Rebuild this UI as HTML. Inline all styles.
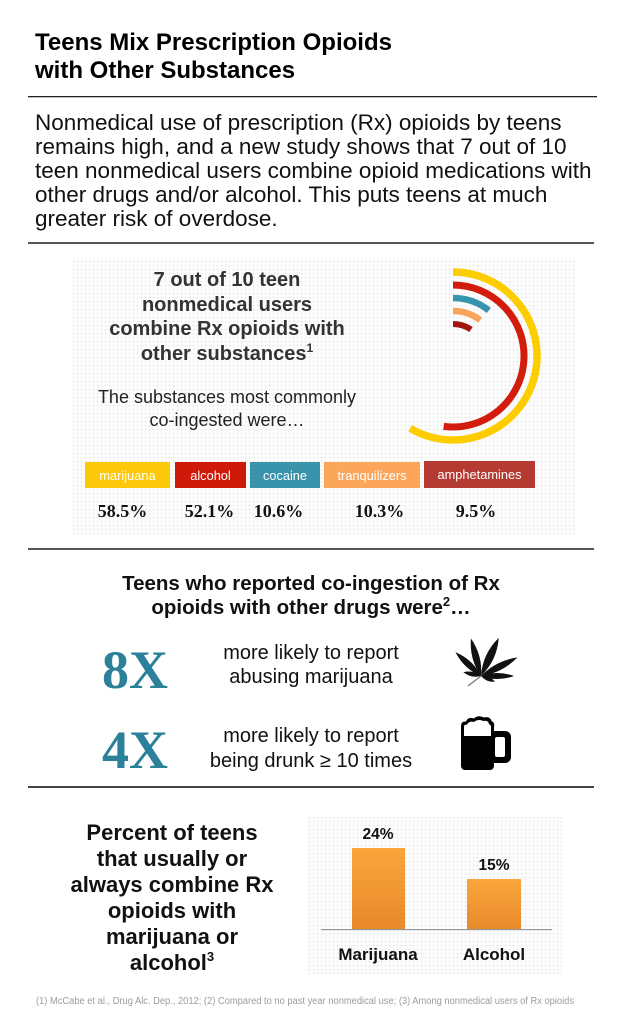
<!DOCTYPE html>
<html><head><meta charset="utf-8">
<style>
html,body{margin:0;padding:0;background:#fff;}
svg{display:block;}
text{font-family:"Liberation Sans",Arial,sans-serif;}
.serif{font-family:"Liberation Serif","Times New Roman",serif;}
</style></head>
<body>
<svg width="620" height="1024" viewBox="0 0 620 1024" xmlns="http://www.w3.org/2000/svg">
<defs>
  <pattern id="dots" x="0" y="0" width="4" height="4" patternUnits="userSpaceOnUse">
    <rect width="4" height="4" fill="#fcfcfc"/>
    <rect x="1" y="1" width="1.2" height="1.2" fill="#e0e0e0"/>
  </pattern>
  <linearGradient id="barg" x1="0" y1="0" x2="0" y2="1">
    <stop offset="0" stop-color="#faa63c"/>
    <stop offset="1" stop-color="#e8892b"/>
  </linearGradient>
</defs>
<rect width="620" height="1024" fill="#fff"/>

<!-- Title -->
<text x="35" y="50" font-size="24" font-weight="bold" fill="#000">Teens Mix Prescription Opioids</text>
<text x="35" y="78" font-size="24" font-weight="bold" fill="#000">with Other Substances</text>
<rect x="28" y="96" width="569" height="1.3" fill="#222"/>

<!-- Paragraph -->
<g font-size="22.5" fill="#111">
<text x="35" y="130">Nonmedical use of prescription (Rx) opioids by teens</text>
<text x="35" y="154">remains high, and a new study shows that 7 out of 10</text>
<text x="35" y="178">teen nonmedical users combine opioid medications with</text>
<text x="35" y="202">other drugs and/or alcohol. This puts teens at much</text>
<text x="35" y="226">greater risk of overdose.</text>
</g>
<rect x="28" y="242" width="566" height="2" fill="#555"/>

<!-- Panel 1 -->
<rect x="72" y="258" width="504" height="277" fill="url(#dots)"/>
<g font-size="20" font-weight="bold" fill="#333" text-anchor="middle">
<text x="227" y="286">7 out of 10 teen</text>
<text x="227" y="311">nonmedical users</text>
<text x="227" y="335">combine Rx opioids with</text>
<text x="227" y="360">other substances<tspan font-size="12" dy="-8">1</tspan></text>
</g>
<g font-size="18" fill="#222" text-anchor="middle">
<text x="227" y="403">The substances most commonly</text>
<text x="227" y="426">co-ingested were…</text>
</g>

<!-- arcs -->
<g fill="none" stroke-linecap="butt">
<path d="M453,272 A84,84 0 1 1 410.24,428.30" stroke="#fdcd00" stroke-width="7.5"/>
<path d="M453,285 A71,71 0 1 1 443.66,426.38" stroke="#d21c0c" stroke-width="7"/>
<path d="M453,298 A58,58 0 0 1 488.84,310.4" stroke="#3794ac" stroke-width="6.5"/>
<path d="M453,311 A45,45 0 0 1 480.14,320.10" stroke="#f9a35c" stroke-width="6.5"/>
<path d="M453,324 A32,32 0 0 1 470.99,329.53" stroke="#a3150f" stroke-width="6"/>
</g>

<!-- labels -->
<rect x="85" y="462" width="85" height="26" fill="#fec80a"/>
<rect x="175" y="462" width="71" height="26" fill="#cf1a0a"/>
<rect x="250" y="462" width="70" height="26" fill="#3993ab"/>
<rect x="324" y="462" width="96" height="26" fill="#fba65a"/>
<rect x="424" y="461" width="111" height="27" fill="#b53a32"/>
<g font-size="12.8" fill="#fff" text-anchor="middle">
<text x="127.5" y="480">marijuana</text>
<text x="210.5" y="480">alcohol</text>
<text x="285" y="480">cocaine</text>
<text x="372" y="480">tranquilizers</text>
<text x="479.5" y="479">amphetamines</text>
</g>
<g class="serif" font-size="18" font-weight="bold" fill="#111" text-anchor="middle">
<text class="serif" x="122.5" y="517">58.5%</text>
<text class="serif" x="209.5" y="517">52.1%</text>
<text class="serif" x="278.5" y="517">10.6%</text>
<text class="serif" x="379.5" y="517">10.3%</text>
<text class="serif" x="476" y="517">9.5%</text>
</g>

<rect x="28" y="548" width="566" height="2" fill="#555"/>

<!-- Section 2 -->
<g font-size="20.5" font-weight="bold" fill="#111" text-anchor="middle">
<text x="311" y="590">Teens who reported co-ingestion of Rx</text>
<text x="311" y="614">opioids with other drugs were<tspan font-size="13" dy="-8">2</tspan><tspan dy="8">…</tspan></text>
</g>
<g font-size="54" font-weight="bold" fill="#2b819a">
<text class="serif" x="102" y="688">8X</text>
<text class="serif" x="102" y="768">4X</text>
</g>
<g font-size="20" fill="#111" text-anchor="middle">
<text x="311" y="659">more likely to report</text>
<text x="311" y="683">abusing marijuana</text>
<text x="311" y="742">more likely to report</text>
<text x="311" y="767">being drunk  ≥ 10 times</text>
</g>

<!-- leaf -->
<g fill="#111">
<path d="M0,0 Q7,-19 0,-39 Q-7,-19 0,0Z" transform="translate(481,676) rotate(-15)"/>
<path d="M0,0 Q8,-21 0,-42 Q-8,-21 0,0Z" transform="translate(481,676) rotate(25)"/>
<path d="M0,0 Q6.5,-17 0,-35 Q-6.5,-17 0,0Z" transform="translate(481,676) rotate(-47)"/>
<path d="M0,0 Q7,-20 0,-41 Q-7,-20 0,0Z" transform="translate(481,676) rotate(63)"/>
<path d="M0,0 Q6,-16 0,-33 Q-6,-16 0,0Z" transform="translate(481,676) rotate(90)"/>
<path d="M0,0 Q4.5,-9 0,-18 Q-4.5,-9 0,0Z" transform="translate(481,676) rotate(-78)"/>
<path d="M0,0 Q4,-8 0,-15 Q-4,-8 0,0Z" transform="translate(481,676) rotate(112)"/>
</g>
<path d="M481,676 L468,686" stroke="#777" stroke-width="1.2"/>

<!-- beer mug -->
<g>
<path d="M490,731 h15 a6,6 0 0 1 6,6 v20 a6,6 0 0 1 -6,6 h-15 Z" fill="#000"/>
<rect x="495" y="737" width="10" height="20" rx="2" fill="#fff"/>
<path d="M461,736 h33 v30 a4,4 0 0 1 -4,4 h-25 a4,4 0 0 1 -4,-4 Z" fill="#000"/>
<path d="M461,738 L461,726 Q461,721 466,721.5 Q468,716.5 474,718.5 Q478,714.5 484,717.5 Q490,716 491.5,721 Q495,722 494,728 L494,738 Z" fill="#000"/>
<path d="M464,736 L464,727 Q464,724 467,724.8 Q469,720.5 474,722 Q478,718.5 483.5,721 Q488,720 489,724 Q491.5,725 491,729 L491,736 Z" fill="#fff"/>
</g>

<rect x="28" y="786" width="566" height="2" fill="#444"/>

<!-- Section 4 -->
<g font-size="22" font-weight="bold" fill="#111" text-anchor="middle">
<text x="172" y="840">Percent of teens</text>
<text x="172" y="866">that usually or</text>
<text x="172" y="892">always combine Rx</text>
<text x="172" y="918">opioids with</text>
<text x="172" y="944">marijuana or</text>
<text x="172" y="970">alcohol<tspan font-size="13" dy="-9">3</tspan></text>
</g>

<rect x="307" y="817" width="255" height="157" fill="url(#dots)"/>
<rect x="352" y="848" width="53" height="81.5" fill="url(#barg)"/>
<rect x="467" y="879" width="54" height="50.5" fill="url(#barg)"/>
<rect x="321" y="929" width="231" height="1.2" fill="#999"/>
<g font-size="15.5" font-weight="bold" fill="#111" text-anchor="middle">
<text x="378" y="839">24%</text>
<text x="494" y="870">15%</text>
</g>
<g font-size="17" font-weight="bold" fill="#111" text-anchor="middle">
<text x="378" y="960">Marijuana</text>
<text x="494" y="960">Alcohol</text>
</g>

<!-- footnote -->
<text x="36" y="1004" font-size="10" fill="#9c9c9c" textLength="538" lengthAdjust="spacingAndGlyphs">(1) McCabe et al., Drug Alc. Dep., 2012; (2) Compared to no past year nonmedical use; (3) Among nonmedical users of Rx opioids</text>
</svg>
</body></html>
